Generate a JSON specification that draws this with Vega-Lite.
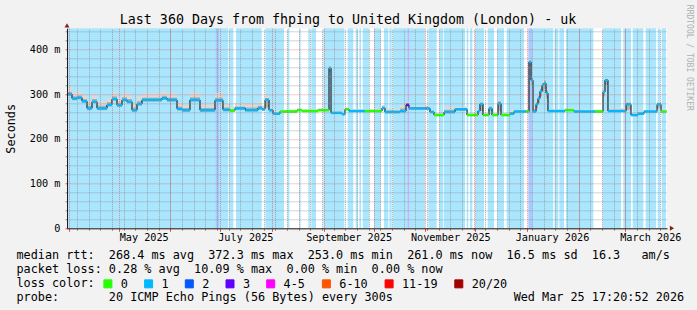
{
 "$schema": "https://vega.github.io/schema/vega-lite/v6.json",
 "width": 600,
 "height": 200,
 "autosize": {"type": "none"},
 "padding": {"left": 67, "top": 28.3, "right": 30, "bottom": 81.7},
 "background": "#f2f2f2",
 "view": {"fill": "#ffffff", "stroke": null},
 "config": {
  "font": "DejaVu Sans Mono",
  "axis": {"labelFont": "DejaVu Sans Mono", "titleFont": "DejaVu Sans Mono", "labelColor": "#000000", "titleColor": "#000000", "titleFontWeight": "normal"}
 },
 "title": {
  "text": "Last 360 Days from fhping to United Kingdom (London) - uk",
  "font": "DejaVu Sans Mono", "fontSize": 13.3, "fontWeight": "normal", "color": "#000000",
  "anchor": "middle", "frame": "group", "dx": -19, "offset": -33, "baseline": "alphabetic"
 },
 "datasets": {
  "bands": [
   {"s": "2025-03-31T00:00", "e": "2025-07-05T19:00", "loss": "1"},
   {"s": "2025-07-06T10:00", "e": "2025-07-08T19:00", "loss": "1"},
   {"s": "2025-07-10T10:00", "e": "2025-07-25T19:00", "loss": "1"},
   {"s": "2025-07-28T00:00", "e": "2025-08-08T05:00", "loss": "1"},
   {"s": "2025-08-10T10:00", "e": "2025-08-11T10:00", "loss": "1"},
   {"s": "2025-08-17T10:00", "e": "2025-08-18T05:00", "loss": "1"},
   {"s": "2025-08-22T19:00", "e": "2025-08-23T19:00", "loss": "1"},
   {"s": "2025-08-24T14:00", "e": "2025-08-27T10:00", "loss": "1"},
   {"s": "2025-08-31T19:00", "e": "2025-09-13T10:00", "loss": "1"},
   {"s": "2025-09-15T10:00", "e": "2025-09-18T19:00", "loss": "1"},
   {"s": "2025-09-20T05:00", "e": "2025-09-21T10:00", "loss": "1"},
   {"s": "2025-09-22T10:00", "e": "2025-09-23T10:00", "loss": "1"},
   {"s": "2025-09-24T10:00", "e": "2025-09-28T05:00", "loss": "1"},
   {"s": "2025-10-01T05:00", "e": "2025-10-05T05:00", "loss": "1"},
   {"s": "2025-10-07T05:00", "e": "2025-10-09T19:00", "loss": "1"},
   {"s": "2025-10-10T10:00", "e": "2025-10-11T19:00", "loss": "1"},
   {"s": "2025-10-12T14:00", "e": "2025-10-31T19:00", "loss": "1"},
   {"s": "2025-11-02T19:00", "e": "2025-11-07T19:00", "loss": "1"},
   {"s": "2025-11-09T10:00", "e": "2025-11-11T19:00", "loss": "1"},
   {"s": "2025-11-12T05:00", "e": "2025-11-24T19:00", "loss": "1"},
   {"s": "2025-11-25T19:00", "e": "2025-11-26T19:00", "loss": "1"},
   {"s": "2025-11-27T19:00", "e": "2025-11-29T05:00", "loss": "1"},
   {"s": "2025-12-01T05:00", "e": "2025-12-06T05:00", "loss": "1"},
   {"s": "2025-12-08T10:00", "e": "2025-12-12T05:00", "loss": "1"},
   {"s": "2025-12-14T05:00", "e": "2025-12-18T05:00", "loss": "1"},
   {"s": "2025-12-19T19:00", "e": "2025-12-30T05:00", "loss": "1"},
   {"s": "2026-01-04T05:00", "e": "2026-01-16T19:00", "loss": "1"},
   {"s": "2026-01-17T14:00", "e": "2026-01-19T19:00", "loss": "1"},
   {"s": "2026-01-20T10:00", "e": "2026-01-23T05:00", "loss": "1"},
   {"s": "2026-01-24T10:00", "e": "2026-02-09T19:00", "loss": "1"},
   {"s": "2026-02-15T10:00", "e": "2026-02-26T10:00", "loss": "1"},
   {"s": "2026-02-27T19:00", "e": "2026-03-04T10:00", "loss": "1"},
   {"s": "2026-03-05T10:00", "e": "2026-03-11T19:00", "loss": "1"},
   {"s": "2026-03-13T05:00", "e": "2026-03-19T10:00", "loss": "1"},
   {"s": "2026-03-20T10:00", "e": "2026-03-21T19:00", "loss": "1"},
   {"s": "2026-03-22T19:00", "e": "2026-03-25T10:00", "loss": "1"},
   {"s": "2025-06-28T05:00", "e": "2025-06-30T05:00", "loss": "2"},
   {"s": "2026-01-01T19:00", "e": "2026-01-04T05:00", "loss": "2"},
   {"s": "2025-10-21T10:00", "e": "2025-10-22T05:00", "loss": "3"}
  ],
  "seg": [
   {"t": "2025-03-31T00:00", "t2": "2025-04-03T00:00", "med": 300, "lo": 296, "mid": 305, "hi": 316, "loss": "1"},
   {"t": "2025-04-03T00:00", "t2": "2025-04-06T00:00", "med": 290, "lo": 286, "mid": 295, "hi": 305, "loss": "1"},
   {"t": "2025-04-06T00:00", "t2": "2025-04-09T00:00", "med": 292, "lo": 288, "mid": 297, "hi": 307, "loss": "1"},
   {"t": "2025-04-09T00:00", "t2": "2025-04-12T00:00", "med": 284, "lo": 280, "mid": 289, "hi": 299, "loss": "1"},
   {"t": "2025-04-12T00:00", "t2": "2025-04-15T00:00", "med": 268, "lo": 264, "mid": 274, "hi": 286, "loss": "1"},
   {"t": "2025-04-15T00:00", "t2": "2025-04-18T00:00", "med": 283, "lo": 279, "mid": 289, "hi": 300, "loss": "1"},
   {"t": "2025-04-18T00:00", "t2": "2025-04-24T00:00", "med": 268, "lo": 264, "mid": 274, "hi": 285, "loss": "1"},
   {"t": "2025-04-24T00:00", "t2": "2025-04-27T00:00", "med": 276, "lo": 272, "mid": 282, "hi": 293, "loss": "1"},
   {"t": "2025-04-27T00:00", "t2": "2025-04-30T00:00", "med": 289, "lo": 285, "mid": 295, "hi": 306, "loss": "1"},
   {"t": "2025-04-30T00:00", "t2": "2025-05-03T00:00", "med": 275, "lo": 271, "mid": 281, "hi": 292, "loss": "1"},
   {"t": "2025-05-03T00:00", "t2": "2025-05-06T00:00", "med": 287, "lo": 283, "mid": 293, "hi": 304, "loss": "1"},
   {"t": "2025-05-06T00:00", "t2": "2025-05-09T00:00", "med": 283, "lo": 279, "mid": 289, "hi": 300, "loss": "1"},
   {"t": "2025-05-09T00:00", "t2": "2025-05-12T00:00", "med": 264, "lo": 260, "mid": 270, "hi": 280, "loss": "1"},
   {"t": "2025-05-12T00:00", "t2": "2025-05-15T00:00", "med": 278, "lo": 274, "mid": 284, "hi": 295, "loss": "1"},
   {"t": "2025-05-15T00:00", "t2": "2025-05-27T00:00", "med": 287, "lo": 283, "mid": 292, "hi": 302, "loss": "1"},
   {"t": "2025-05-27T00:00", "t2": "2025-05-30T00:00", "med": 291, "lo": 287, "mid": 296, "hi": 308, "loss": "1"},
   {"t": "2025-05-30T00:00", "t2": "2025-06-05T00:00", "med": 287, "lo": 283, "mid": 292, "hi": 302, "loss": "1"},
   {"t": "2025-06-05T00:00", "t2": "2025-06-08T00:00", "med": 267, "lo": 263, "mid": 272, "hi": 282, "loss": "1"},
   {"t": "2025-06-08T00:00", "t2": "2025-06-12T19:00", "med": 264, "lo": 260, "mid": 269, "hi": 278, "loss": "1"},
   {"t": "2025-06-12T19:00", "t2": "2025-06-18T19:00", "med": 287, "lo": 283, "mid": 293, "hi": 304, "loss": "1"},
   {"t": "2025-06-18T19:00", "t2": "2025-06-27T19:00", "med": 264, "lo": 260, "mid": 269, "hi": 279, "loss": "1"},
   {"t": "2025-06-27T19:00", "t2": "2025-07-02T14:00", "med": 286, "lo": 282, "mid": 292, "hi": 303, "loss": "1"},
   {"t": "2025-07-02T14:00", "t2": "2025-07-06T19:00", "med": 265, "lo": 261, "mid": 270, "hi": 278, "loss": "1"},
   {"t": "2025-07-06T19:00", "t2": "2025-07-09T19:00", "med": 263, "lo": 261, "mid": 266, "hi": 272, "loss": "0"},
   {"t": "2025-07-09T19:00", "t2": "2025-07-16T00:00", "med": 268, "lo": 265, "mid": 272, "hi": 280, "loss": "1"},
   {"t": "2025-07-16T00:00", "t2": "2025-07-23T14:00", "med": 264, "lo": 261, "mid": 270, "hi": 280, "loss": "1"},
   {"t": "2025-07-23T14:00", "t2": "2025-07-26T00:00", "med": 269, "lo": 265, "mid": 274, "hi": 282, "loss": "1"},
   {"t": "2025-07-26T00:00", "t2": "2025-07-27T19:00", "med": 266, "lo": 263, "mid": 269, "hi": 274, "loss": "1"},
   {"t": "2025-07-27T19:00", "t2": "2025-07-30T05:00", "med": 287, "lo": 270, "mid": 291, "hi": 298, "loss": "1"},
   {"t": "2025-07-30T05:00", "t2": "2025-08-01T14:00", "med": 264, "lo": 261, "mid": 267, "hi": 272, "loss": "1"},
   {"t": "2025-08-01T14:00", "t2": "2025-08-05T19:00", "med": 256, "lo": 254, "mid": 258, "hi": 262, "loss": "1"},
   {"t": "2025-08-05T19:00", "t2": "2025-08-16T00:00", "med": 261, "lo": 259, "mid": 263, "hi": 265, "loss": "0"},
   {"t": "2025-08-16T00:00", "t2": "2025-08-19T00:00", "med": 264, "lo": 262, "mid": 266, "hi": 268, "loss": "0"},
   {"t": "2025-08-19T00:00", "t2": "2025-08-28T14:00", "med": 262, "lo": 260, "mid": 264, "hi": 266, "loss": "0"},
   {"t": "2025-08-28T14:00", "t2": "2025-09-04T05:00", "med": 264, "lo": 262, "mid": 266, "hi": 268, "loss": "0"},
   {"t": "2025-09-04T05:00", "t2": "2025-09-05T10:00", "med": 358, "lo": 350, "mid": 362, "hi": 366, "loss": "1"},
   {"t": "2025-09-05T10:00", "t2": "2025-09-12T00:00", "med": 258, "lo": 256, "mid": 260, "hi": 262, "loss": "1"},
   {"t": "2025-09-12T00:00", "t2": "2025-09-13T19:00", "med": 255, "lo": 253, "mid": 257, "hi": 259, "loss": "1"},
   {"t": "2025-09-13T19:00", "t2": "2025-09-16T05:00", "med": 266, "lo": 264, "mid": 268, "hi": 270, "loss": "0"},
   {"t": "2025-09-16T05:00", "t2": "2025-09-25T19:00", "med": 262, "lo": 260, "mid": 264, "hi": 266, "loss": "1"},
   {"t": "2025-09-25T19:00", "t2": "2025-10-06T00:00", "med": 262, "lo": 260, "mid": 264, "hi": 266, "loss": "0"},
   {"t": "2025-10-06T00:00", "t2": "2025-10-07T19:00", "med": 269, "lo": 266, "mid": 272, "hi": 275, "loss": "1"},
   {"t": "2025-10-07T19:00", "t2": "2025-10-16T19:00", "med": 260, "lo": 257, "mid": 263, "hi": 268, "loss": "1"},
   {"t": "2025-10-16T19:00", "t2": "2025-10-20T10:00", "med": 262, "lo": 259, "mid": 268, "hi": 276, "loss": "1"},
   {"t": "2025-10-20T10:00", "t2": "2025-10-22T05:00", "med": 276, "lo": 272, "mid": 280, "hi": 283, "loss": "3"},
   {"t": "2025-10-22T05:00", "t2": "2025-11-03T19:00", "med": 268, "lo": 265, "mid": 271, "hi": 274, "loss": "1"},
   {"t": "2025-11-03T19:00", "t2": "2025-11-06T05:00", "med": 260, "lo": 258, "mid": 262, "hi": 264, "loss": "1"},
   {"t": "2025-11-06T05:00", "t2": "2025-11-12T05:00", "med": 253, "lo": 251, "mid": 255, "hi": 257, "loss": "0"},
   {"t": "2025-11-12T05:00", "t2": "2025-11-18T19:00", "med": 260, "lo": 257, "mid": 265, "hi": 272, "loss": "1"},
   {"t": "2025-11-18T19:00", "t2": "2025-11-26T00:00", "med": 266, "lo": 263, "mid": 269, "hi": 272, "loss": "1"},
   {"t": "2025-11-26T00:00", "t2": "2025-12-02T14:00", "med": 253, "lo": 251, "mid": 255, "hi": 257, "loss": "0"},
   {"t": "2025-12-02T14:00", "t2": "2025-12-03T19:00", "med": 262, "lo": 260, "mid": 264, "hi": 266, "loss": "1"},
   {"t": "2025-12-03T19:00", "t2": "2025-12-05T14:00", "med": 278, "lo": 262, "mid": 280, "hi": 283, "loss": "1"},
   {"t": "2025-12-05T14:00", "t2": "2025-12-09T05:00", "med": 253, "lo": 251, "mid": 255, "hi": 257, "loss": "0"},
   {"t": "2025-12-09T05:00", "t2": "2025-12-11T00:00", "med": 268, "lo": 262, "mid": 272, "hi": 275, "loss": "1"},
   {"t": "2025-12-11T00:00", "t2": "2025-12-14T14:00", "med": 253, "lo": 251, "mid": 255, "hi": 257, "loss": "0"},
   {"t": "2025-12-14T14:00", "t2": "2025-12-16T10:00", "med": 279, "lo": 262, "mid": 284, "hi": 288, "loss": "1"},
   {"t": "2025-12-16T10:00", "t2": "2025-12-21T19:00", "med": 253, "lo": 251, "mid": 255, "hi": 258, "loss": "0"},
   {"t": "2025-12-21T19:00", "t2": "2025-12-24T05:00", "med": 256, "lo": 254, "mid": 260, "hi": 264, "loss": "1"},
   {"t": "2025-12-24T05:00", "t2": "2025-12-31T10:00", "med": 261, "lo": 259, "mid": 263, "hi": 265, "loss": "1"},
   {"t": "2025-12-31T10:00", "t2": "2026-01-02T05:00", "med": 261, "lo": 259, "mid": 263, "hi": 265, "loss": "0"},
   {"t": "2026-01-02T05:00", "t2": "2026-01-03T10:00", "med": 372, "lo": 362, "mid": 375, "hi": 378, "loss": "1"},
   {"t": "2026-01-03T10:00", "t2": "2026-01-04T14:00", "med": 331, "lo": 320, "mid": 336, "hi": 340, "loss": "1"},
   {"t": "2026-01-04T14:00", "t2": "2026-01-06T10:00", "med": 261, "lo": 259, "mid": 266, "hi": 270, "loss": "1"},
   {"t": "2026-01-06T10:00", "t2": "2026-01-07T14:00", "med": 277, "lo": 268, "mid": 282, "hi": 286, "loss": "1"},
   {"t": "2026-01-07T14:00", "t2": "2026-01-08T19:00", "med": 290, "lo": 280, "mid": 296, "hi": 300, "loss": "1"},
   {"t": "2026-01-08T19:00", "t2": "2026-01-10T00:00", "med": 306, "lo": 295, "mid": 312, "hi": 318, "loss": "1"},
   {"t": "2026-01-10T00:00", "t2": "2026-01-11T05:00", "med": 320, "lo": 305, "mid": 325, "hi": 330, "loss": "1"},
   {"t": "2026-01-11T05:00", "t2": "2026-01-12T10:00", "med": 324, "lo": 312, "mid": 330, "hi": 334, "loss": "1"},
   {"t": "2026-01-12T10:00", "t2": "2026-01-13T14:00", "med": 302, "lo": 290, "mid": 308, "hi": 312, "loss": "1"},
   {"t": "2026-01-13T14:00", "t2": "2026-01-23T19:00", "med": 262, "lo": 260, "mid": 264, "hi": 266, "loss": "1"},
   {"t": "2026-01-23T19:00", "t2": "2026-01-29T05:00", "med": 264, "lo": 262, "mid": 266, "hi": 268, "loss": "0"},
   {"t": "2026-01-29T05:00", "t2": "2026-02-10T19:00", "med": 261, "lo": 259, "mid": 263, "hi": 265, "loss": "1"},
   {"t": "2026-02-10T19:00", "t2": "2026-02-15T14:00", "med": 261, "lo": 259, "mid": 263, "hi": 265, "loss": "0"},
   {"t": "2026-02-15T14:00", "t2": "2026-02-16T19:00", "med": 305, "lo": 295, "mid": 308, "hi": 312, "loss": "1"},
   {"t": "2026-02-16T19:00", "t2": "2026-02-18T14:00", "med": 331, "lo": 320, "mid": 334, "hi": 337, "loss": "1"},
   {"t": "2026-02-18T14:00", "t2": "2026-03-01T10:00", "med": 262, "lo": 260, "mid": 265, "hi": 268, "loss": "1"},
   {"t": "2026-03-01T10:00", "t2": "2026-03-04T10:00", "med": 277, "lo": 265, "mid": 281, "hi": 284, "loss": "1"},
   {"t": "2026-03-04T10:00", "t2": "2026-03-08T14:00", "med": 253, "lo": 251, "mid": 256, "hi": 258, "loss": "1"},
   {"t": "2026-03-08T14:00", "t2": "2026-03-12T05:00", "med": 256, "lo": 254, "mid": 259, "hi": 261, "loss": "1"},
   {"t": "2026-03-12T05:00", "t2": "2026-03-20T00:00", "med": 261, "lo": 259, "mid": 263, "hi": 265, "loss": "1"},
   {"t": "2026-03-20T00:00", "t2": "2026-03-22T10:00", "med": 277, "lo": 268, "mid": 280, "hi": 283, "loss": "1"},
   {"t": "2026-03-22T10:00", "t2": "2026-03-25T17:00", "med": 261, "lo": 259, "mid": 263, "hi": 265, "loss": "0"}
  ],
  "arrows": [
   {"x": "2026-03-26T00:00", "y": 0, "dir": "x"},
   {"x": "2025-03-31T00:00", "y": 447, "dir": "y"}
  ]
 },
 "resolve": {"axis": {"x": "independent", "y": "independent"}},
 "layer": [
  {
   "data": {"name": "bands"},
   "mark": {"type": "rect"},
   "encoding": {
    "x": {"field": "s", "type": "temporal",
     "scale": {"domain": [{"year": 2025, "month": 3, "date": 31}, {"year": 2026, "month": 3, "date": 26}], "nice": false},
     "axis": {"orient": "bottom", "values": [
       {"year": 2025, "month": 4, "date": 6}, {"year": 2025, "month": 4, "date": 13}, {"year": 2025, "month": 4, "date": 20}, {"year": 2025, "month": 4, "date": 27},
       {"year": 2025, "month": 5, "date": 4}, {"year": 2025, "month": 5, "date": 11}, {"year": 2025, "month": 5, "date": 18}, {"year": 2025, "month": 5, "date": 25},
       {"year": 2025, "month": 6, "date": 1}, {"year": 2025, "month": 6, "date": 8}, {"year": 2025, "month": 6, "date": 15}, {"year": 2025, "month": 6, "date": 22}, {"year": 2025, "month": 6, "date": 29},
       {"year": 2025, "month": 7, "date": 6}, {"year": 2025, "month": 7, "date": 13}, {"year": 2025, "month": 7, "date": 20}, {"year": 2025, "month": 7, "date": 27},
       {"year": 2025, "month": 8, "date": 3}, {"year": 2025, "month": 8, "date": 10}, {"year": 2025, "month": 8, "date": 17}, {"year": 2025, "month": 8, "date": 24}, {"year": 2025, "month": 8, "date": 31},
       {"year": 2025, "month": 9, "date": 7}, {"year": 2025, "month": 9, "date": 14}, {"year": 2025, "month": 9, "date": 21}, {"year": 2025, "month": 9, "date": 28},
       {"year": 2025, "month": 10, "date": 5}, {"year": 2025, "month": 10, "date": 12}, {"year": 2025, "month": 10, "date": 19}, {"year": 2025, "month": 10, "date": 26},
       {"year": 2025, "month": 11, "date": 2}, {"year": 2025, "month": 11, "date": 9}, {"year": 2025, "month": 11, "date": 16}, {"year": 2025, "month": 11, "date": 23}, {"year": 2025, "month": 11, "date": 30},
       {"year": 2025, "month": 12, "date": 7}, {"year": 2025, "month": 12, "date": 14}, {"year": 2025, "month": 12, "date": 21}, {"year": 2025, "month": 12, "date": 28},
       {"year": 2026, "month": 1, "date": 4}, {"year": 2026, "month": 1, "date": 11}, {"year": 2026, "month": 1, "date": 18}, {"year": 2026, "month": 1, "date": 25},
       {"year": 2026, "month": 2, "date": 1}, {"year": 2026, "month": 2, "date": 8}, {"year": 2026, "month": 2, "date": 15}, {"year": 2026, "month": 2, "date": 22},
       {"year": 2026, "month": 3, "date": 1}, {"year": 2026, "month": 3, "date": 8}, {"year": 2026, "month": 3, "date": 15}, {"year": 2026, "month": 3, "date": 22}
      ],
      "grid": true, "gridColor": "#8f8f8f", "gridOpacity": 0.75, "gridDash": [1, 1], "gridWidth": 1,
      "ticks": true, "tickColor": "#8f8f8f", "tickSize": 2, "labels": false, "domain": false, "title": null, "zindex": 1}
    },
    "x2": {"field": "e"},
    "fill": {"field": "loss", "type": "nominal", "scale": {"domain": ["1", "2", "3"], "range": ["#aae7ff", "#aac8ff", "#d4aaff"]}, "legend": null}
   }
  },
  {
   "data": {"name": "seg"},
   "mark": {"type": "rect", "color": "#dadada"},
   "encoding": {
    "x": {"field": "t", "type": "temporal", "axis": null},
    "x2": {"field": "t2"},
    "y": {"field": "lo", "type": "quantitative", "scale": {"domain": [0, 447], "nice": false, "zero": true},
     "axis": {"orient": "left", "values": [20, 40, 60, 80, 120, 140, 160, 180, 220, 240, 260, 280, 320, 340, 360, 380, 420, 440],
      "grid": true, "gridColor": "#8f8f8f", "gridOpacity": 0.75, "gridDash": [1, 1], "gridWidth": 1,
      "ticks": true, "tickColor": "#8f8f8f", "tickSize": 2, "labels": false, "domain": false, "title": null, "zindex": 1}},
    "y2": {"field": "hi"}
   }
  },
  {
   "data": {"name": "seg"},
   "mark": {"type": "rect", "color": "#b0b0b0"},
   "encoding": {
    "x": {"field": "t", "type": "temporal", "axis": null},
    "x2": {"field": "t2"},
    "y": {"field": "lo", "type": "quantitative", "axis": null},
    "y2": {"field": "mid"}
   }
  },
  {
   "data": {"name": "seg"},
   "mark": {"type": "line", "interpolate": "step-after", "color": "#000000", "strokeWidth": 1},
   "encoding": {
    "x": {"field": "t", "type": "temporal",
     "axis": {
      "orient": "bottom",
      "values": [
       {"year": 2025, "month": 4, "date": 1}, {"year": 2025, "month": 5, "date": 1}, {"year": 2025, "month": 6, "date": 1}, {"year": 2025, "month": 7, "date": 1},
       {"year": 2025, "month": 8, "date": 1}, {"year": 2025, "month": 9, "date": 1}, {"year": 2025, "month": 10, "date": 1}, {"year": 2025, "month": 11, "date": 1},
       {"year": 2025, "month": 12, "date": 1}, {"year": 2026, "month": 1, "date": 1}, {"year": 2026, "month": 2, "date": 1}, {"year": 2026, "month": 3, "date": 1}
      ],
      "grid": true, "gridColor": "#de4f4f", "gridOpacity": 0.6, "gridDash": [1, 1], "gridWidth": 1,
      "ticks": true, "tickColor": "#de4f4f", "tickSize": 3,
      "domain": true, "domainColor": "#1f1f1f", "domainWidth": 1,
      "labelExpr": "month(datum.value) % 2 == 0 ? timeFormat(datum.value, '%B %Y') : ''",
      "labelOffset": 25, "labelFontSize": 10.2, "labelPadding": 1, "labelOverlap": false, "labelFlush": false, "labelBound": false,
      "title": [
       "median rtt:\u00a0\u00a0268.4 ms avg\u00a0\u00a0372.3 ms max\u00a0\u00a0253.0 ms min\u00a0\u00a0261.0 ms now\u00a0\u00a016.5 ms sd\u00a0\u00a016.3\u00a0\u00a0\u00a0am/s",
       "packet loss: 0.28 % avg\u00a0\u00a010.09 % max\u00a0\u00a00.00 % min\u00a0\u00a00.00 % now",
       "loss color:",
       "probe:\u00a0\u00a0\u00a0\u00a0\u00a0\u00a0\u00a020 ICMP Echo Pings (56 Bytes) every 300s\u00a0\u00a0\u00a0\u00a0\u00a0\u00a0\u00a0\u00a0\u00a0\u00a0\u00a0\u00a0\u00a0\u00a0\u00a0\u00a0\u00a0Wed Mar 25 17:20:52 2026"
      ],
      "titleFontSize": 11.8, "titleAnchor": "start", "titleAlign": "left", "titleX": -51, "titleY": 30, "titleBaseline": "alphabetic", "titleLineHeight": 14,
      "zindex": 1
     }
    },
    "y": {"field": "med", "type": "quantitative",
     "axis": {"orient": "left", "values": [0, 100, 200, 300, 400],
      "grid": true, "gridColor": "#de4f4f", "gridOpacity": 0.6, "gridDash": [1, 1], "gridWidth": 1,
      "ticks": true, "tickColor": "#de4f4f", "tickSize": 2,
      "domain": true, "domainColor": "#1f1f1f", "domainWidth": 1,
      "labelExpr": "datum.value == 0 ? '0' : datum.value + ' m'",
      "labelFontSize": 10.2, "labelPadding": 5,
      "title": "Seconds", "titleFontSize": 11.8, "titleX": -57, "titleY": 100, "titleAngle": -90, "titleAlign": "center", "titleBaseline": "middle",
      "zindex": 1}
    }
   }
  },
  {
   "data": {"name": "seg"},
   "mark": {"type": "rule", "strokeWidth": 2.5},
   "encoding": {
    "x": {"field": "t", "type": "temporal", "axis": null},
    "x2": {"field": "t2"},
    "y": {"field": "med", "type": "quantitative",
     "axis": {"orient": "right", "values": [], "domain": false, "ticks": false, "labels": false, "grid": false,
      "title": "RRDTOOL / TOBI OETIKER", "titleFontSize": 8, "titleColor": "#b0b0b0", "titleAngle": 90,
      "titleX": 21, "titleY": 29, "titleAlign": "center", "titleBaseline": "middle"}},
    "color": {"field": "loss", "type": "nominal",
     "scale": {"domain": ["0", "1", "2", "3", "4-5", "6-10", "11-19", "20/20"],
      "range": ["#26ff00", "#00b8ff", "#0059ff", "#5e00ff", "#ff00ff", "#ff5500", "#ff0000", "#a10000"]},
     "legend": {"title": null, "orient": "none", "legendX": 35, "legendY": 249.5, "direction": "horizontal",
      "symbolType": "square", "symbolSize": 64, "symbolStrokeWidth": 1,
      "labelFont": "DejaVu Sans Mono", "labelFontSize": 11.8, "labelColor": "#000000", "labelOffset": 7,
      "columnPadding": 13.7, "padding": 0,
      "encode": {"symbols": {"update": {"fill": {"scale": "color", "field": "value"}, "stroke": {"value": "#000000"}, "strokeWidth": {"value": 1}, "opacity": {"value": 1}}}}}
    }
   }
  },
  {
   "data": {"name": "arrows"},
   "transform": [{"filter": "datum.dir == 'x'"}],
   "mark": {"type": "point", "shape": "triangle-right", "filled": true, "color": "#801f1f", "size": 24, "opacity": 1, "xOffset": 5},
   "encoding": {
    "x": {"field": "x", "type": "temporal", "axis": null},
    "y": {"field": "y", "type": "quantitative", "axis": null}
   }
  },
  {
   "data": {"name": "arrows"},
   "transform": [{"filter": "datum.dir == 'y'"}],
   "mark": {"type": "point", "shape": "triangle-up", "filled": true, "color": "#801f1f", "size": 24, "opacity": 1, "yOffset": -3},
   "encoding": {
    "x": {"field": "x", "type": "temporal", "axis": null},
    "y": {"field": "y", "type": "quantitative", "axis": null}
   }
  }
 ]
}
